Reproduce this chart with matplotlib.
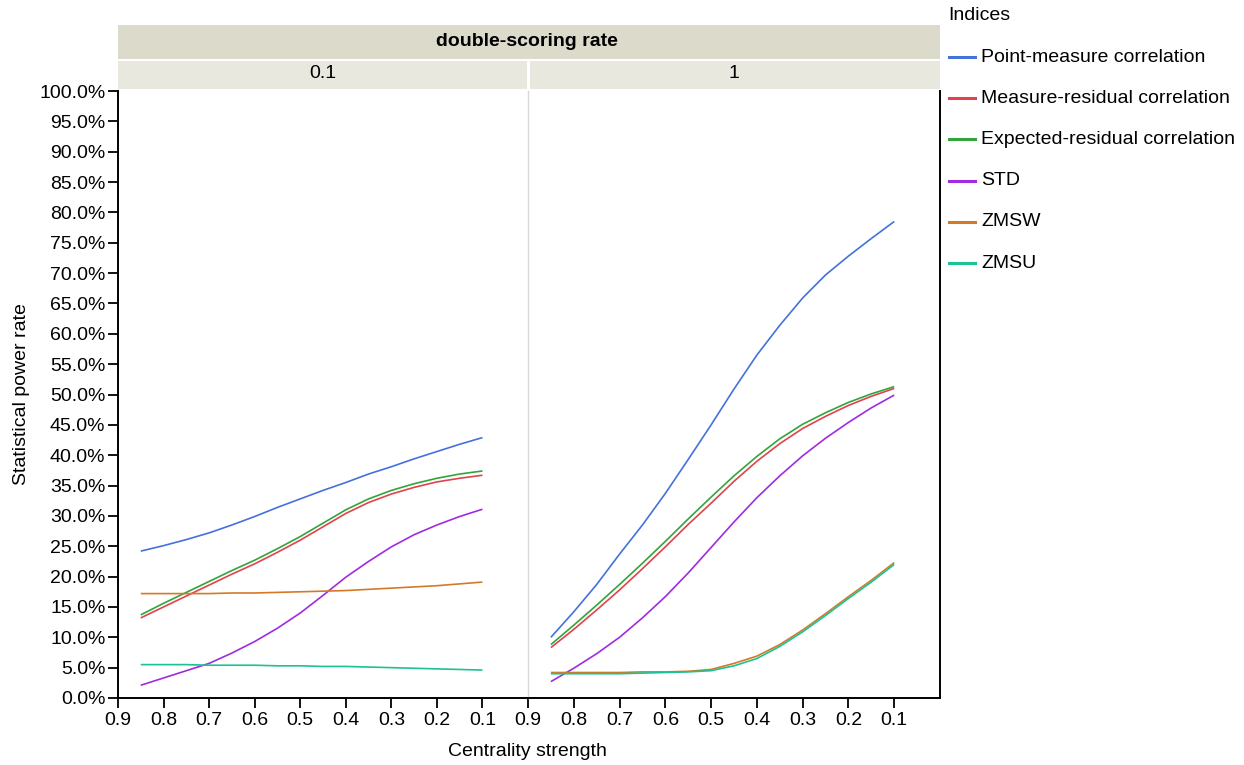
import matplotlib
matplotlib.use("Agg")
import matplotlib.pyplot as plt
from matplotlib.patches import Rectangle
from matplotlib.lines import Line2D

plt.rcParams['font.family'] = ['Liberation Sans', 'DejaVu Sans']

# ---------------- data ----------------
centrality = [0.85, 0.80, 0.75, 0.70, 0.65, 0.60, 0.55, 0.50,
              0.45, 0.40, 0.35, 0.30, 0.25, 0.20, 0.15, 0.10]
tick_values = [0.9, 0.8, 0.7, 0.6, 0.5, 0.4, 0.3, 0.2, 0.1]
tick_labels = ["0.9", "0.8", "0.7", "0.6", "0.5", "0.4", "0.3", "0.2", "0.1"]
panel_labels = ["0.1", "1"]
index_names = ["Point-measure correlation", "Measure-residual correlation",
               "Expected-residual correlation", "STD", "ZMSW", "ZMSU"]
index_colors = ["#4471dc", "#e0424e", "#33a43a", "#a02be0", "#d47a27", "#1cc294"]

# panel: double-scoring rate 0.1 (percent)
pm_01 = [24.2, 25.1, 26.1, 27.2, 28.5, 29.9, 31.4, 32.8, 34.2, 35.5, 36.9, 38.1, 39.4, 40.6, 41.8, 42.9]
mr_01 = [13.2, 15.0, 16.8, 18.6, 20.4, 22.1, 24.0, 26.0, 28.2, 30.4, 32.2, 33.6, 34.7, 35.6, 36.2, 36.7]
er_01 = [13.7, 15.6, 17.4, 19.2, 21.0, 22.7, 24.6, 26.6, 28.8, 31.0, 32.8, 34.2, 35.3, 36.2, 36.9, 37.4]
std_01 = [2.1, 3.3, 4.5, 5.7, 7.4, 9.3, 11.5, 14.0, 16.9, 19.9, 22.5, 24.9, 26.9, 28.5, 29.9, 31.1]
zmsw_01 = [17.2, 17.2, 17.2, 17.2, 17.3, 17.3, 17.4, 17.5, 17.6, 17.7, 17.9, 18.1, 18.3, 18.5, 18.8, 19.1]
zmsu_01 = [5.5, 5.5, 5.5, 5.4, 5.4, 5.4, 5.3, 5.3, 5.2, 5.2, 5.1, 5.0, 4.9, 4.8, 4.7, 4.6]

# panel: double-scoring rate 1 (percent)
pm_1 = [10.0, 14.2, 18.7, 23.7, 28.5, 33.7, 39.3, 45.0, 50.9, 56.5, 61.4, 65.9, 69.7, 72.8, 75.7, 78.5]
mr_1 = [8.3, 11.3, 14.5, 17.8, 21.3, 24.9, 28.6, 32.1, 35.7, 39.0, 41.9, 44.4, 46.4, 48.2, 49.7, 51.0]
er_1 = [8.8, 12.0, 15.3, 18.7, 22.2, 25.8, 29.5, 33.1, 36.6, 39.8, 42.7, 45.1, 47.0, 48.7, 50.1, 51.3]
std_1 = [2.7, 4.9, 7.3, 10.0, 13.2, 16.7, 20.6, 24.8, 29.0, 33.0, 36.6, 39.9, 42.8, 45.4, 47.8, 49.9]
zmsw_1 = [4.2, 4.2, 4.2, 4.2, 4.3, 4.3, 4.4, 4.7, 5.7, 6.9, 8.8, 11.2, 13.9, 16.7, 19.4, 22.3]
zmsu_1 = [4.0, 4.0, 4.0, 4.0, 4.1, 4.2, 4.3, 4.5, 5.3, 6.5, 8.5, 10.9, 13.6, 16.4, 19.1, 22.0]

panels = [
    [pm_01, mr_01, er_01, std_01, zmsw_01, zmsu_01],
    [pm_1, mr_1, er_1, std_1, zmsw_1, zmsu_1],
]

# ---------------- layout ----------------
W, H = 1244, 765
fig = plt.figure(figsize=(W / 100, H / 100), dpi=100)

def fx(px):
    return px / W

def fy(py):
    return 1 - py / H

plot_top, plot_bot = 91, 698
lefts = [118, 528]
rights = [528, 940]
FS = 14

axes = []
for i in range(2):
    ax = fig.add_axes([fx(lefts[i]), fy(plot_bot), fx(rights[i] - lefts[i]),
                       (plot_bot - plot_top) / H])
    axes.append(ax)
    for series, col in zip(panels[i], index_colors):
        ax.plot(centrality, series, color=col, lw=1.2, solid_capstyle='butt')
    ax.set_xlim(0.9, 0.0)
    ax.set_ylim(0, 100)
    ax.set_xticks(tick_values)
    ax.set_xticklabels(tick_labels, fontsize=FS)
    ax.tick_params(axis='x', length=7, width=1.3, direction='out', pad=3)
    ax.spines['top'].set_visible(False)
    ax.spines['bottom'].set_linewidth(1.4)

ax0, ax1 = axes
ax0.set_yticks(range(0, 101, 5))
ax0.set_yticklabels([f"{v:.1f}%" for v in range(0, 101, 5)], fontsize=FS)
ax0.tick_params(axis='y', length=7, width=1.3, direction='out', pad=2)
ax0.spines['left'].set_linewidth(1.4)
ax0.spines['right'].set_visible(False)
ax0.set_ylabel("Statistical power rate", fontsize=FS, labelpad=7)

ax1.set_yticks([])
ax1.spines['left'].set_color('#d9d9d9')
ax1.spines['left'].set_linewidth(1.0)
ax1.spines['right'].set_linewidth(1.4)

fig.text(fx(527), fy(752), "Centrality strength", fontsize=FS, ha='center', va='center')

# strips
fig.add_artist(Rectangle((fx(118), fy(59)), fx(940 - 118), (59 - 25) / H,
                         facecolor='#dcdacb', edgecolor='none', transform=fig.transFigure))
fig.text(fx(527), fy(42), "double-scoring rate", fontsize=FS, fontweight='bold',
         ha='center', va='center')
for i in range(2):
    x0 = lefts[i] + (0 if i == 0 else 2)
    x1 = rights[i] - (1 if i == 0 else 0)
    fig.add_artist(Rectangle((fx(x0), fy(89)), fx(x1 - x0), (89 - 61) / H,
                             facecolor='#e8e8df', edgecolor='none', transform=fig.transFigure))
    fig.text(fx((lefts[i] + rights[i]) / 2), fy(74), panel_labels[i], fontsize=FS,
             ha='center', va='center')

# legend
fig.text(fx(948), fy(16), "Indices", fontsize=FS, ha='left', va='center')
for k, (name, col) in enumerate(zip(index_names, index_colors)):
    yy = 57 + k * 41.2
    fig.add_artist(Line2D([fx(949), fx(975)], [fy(yy), fy(yy)], color=col, lw=2.2,
                          transform=fig.transFigure))
    fig.text(fx(981), fy(yy), name, fontsize=FS, ha='left', va='center')

fig.savefig("out.png", dpi=100)
